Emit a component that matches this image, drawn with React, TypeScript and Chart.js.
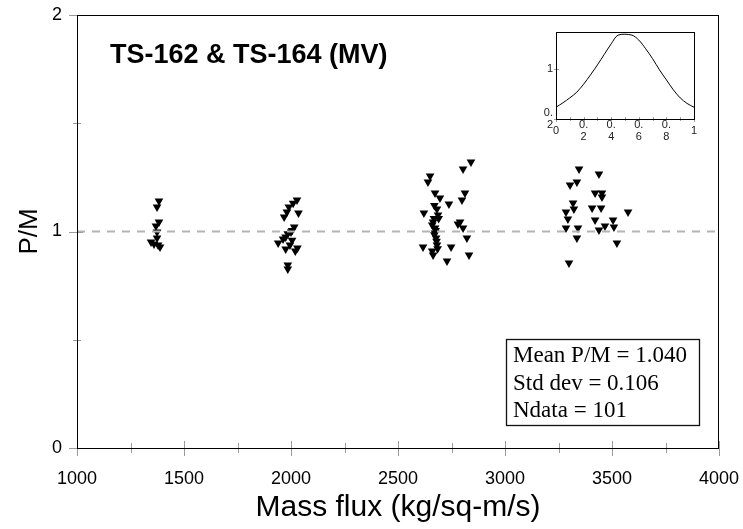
import React, { useEffect, useRef } from 'react';
import { Chart, registerables } from 'chart.js';

Chart.register(...registerables);

// ---- Main data: P/M vs mass flux (kg/sq-m/s) ----
const g1Flux = [1383, 1374, 1383, 1369, 1374, 1374, 1346, 1360, 1379, 1388];
const g1PM = [1.141, 1.113, 1.044, 1.025, 0.998, 0.970, 0.951, 0.942, 0.938, 0.928];

const g2Flux = [2028, 2010, 1990, 1981, 1968, 2035, 2015, 2005, 2000, 1985, 1975, 1963, 1940, 1995, 2030, 1975, 2020, 2005, 1985, 1985];
const g2PM = [1.145, 1.13, 1.113, 1.09, 1.067, 1.085, 1.021, 1.005, 0.998, 0.99, 0.975, 0.965, 0.947, 0.938, 0.924, 0.919, 0.91, 0.96, 0.845, 0.827];

const g3Flux = [2650, 2640, 2673, 2696, 2738, 2621, 2682, 2687, 2664, 2780, 2673, 2673, 2678, 2617, 2748, 2682, 2664, 2729,
  2841, 2804, 2813, 2799, 2790, 2804, 2822, 2832,
  2668, 2676, 2670, 2680, 2685, 2660, 2670, 2690, 2660];
const g3PM = [1.256, 1.229, 1.178, 1.155, 1.127, 1.085, 1.104, 1.076, 1.044, 1.035, 1.016, 0.993, 0.970, 0.928, 0.928, 0.938, 0.891, 0.864,
  1.321, 1.289, 1.178, 1.145, 1.044, 1.016, 0.970, 0.891,
  1.06, 1.005, 0.985, 0.955, 0.92, 0.91, 1.12, 1.06, 1.03];

const g4Flux = [3346, 3439, 3336, 3304, 3421, 3453, 3453, 3318, 3285, 3322, 3407, 3449, 3294, 3421, 3505, 3285, 3341, 3467, 3509, 3439, 3336, 3523, 3299, 3575];
const g4PM = [1.289, 1.266, 1.229, 1.215, 1.178, 1.178, 1.159, 1.132, 1.09, 1.104, 1.108, 1.108, 1.058, 1.053, 1.053, 1.016, 1.016, 1.025, 1.021, 1.007, 0.970, 0.947, 0.855, 1.09];

const referencePM = 1;
const xMin = 1000;
const xMax = 4000;
const xStep = 500;
const yMin = 0;
const yMax = 2;
const yStep = 1;

const titleText = 'TS-162 & TS-164 (MV)';
const xTitle = 'Mass flux (kg/sq-m/s)';
const yTitle = 'P/M';
const statsLines = ['Mean P/M = 1.040', 'Std dev = 0.106', 'Ndata = 101'];

// ---- Inset: axial power shape ----
const insetZ = [0, 0.05, 0.1, 0.15, 0.2, 0.25, 0.3, 0.35, 0.4, 0.45, 0.55, 0.6, 0.65, 0.7, 0.75, 0.8, 0.85, 0.9, 0.95, 1];
const insetPower = [0.39, 0.46, 0.54, 0.63, 0.76, 0.91, 1.07, 1.24, 1.41, 1.55, 1.55, 1.47, 1.33, 1.17, 0.99, 0.83, 0.67, 0.54, 0.45, 0.39];
const insetYTicks = [0.2, 1];

const SANS = '"Liberation Sans", Arial, sans-serif';
const toPoints = (xs: number[], ys: number[]) => xs.map((x, i) => ({ x, y: ys[i] }));

const mainFrame = {
  id: 'mainFrame',
  afterDraw(chart: any) {
    const { ctx, chartArea, scales } = chart;
    const { left, right, top, bottom } = chartArea;
    const x = scales.x;
    const y = scales.y;
    ctx.save();
    ctx.strokeStyle = '#9a9a9a';
    ctx.lineWidth = 1;
    const xt = x.ticks.map((t: any) => t.value);
    xt.forEach((v: number, i: number) => {
      const px = Math.round(x.getPixelForValue(v)) + 0.5;
      ctx.beginPath(); ctx.moveTo(px, bottom - 7); ctx.lineTo(px, bottom + 8); ctx.stroke();
      if (i < xt.length - 1) {
        const mx = Math.round(x.getPixelForValue((v + xt[i + 1]) / 2)) + 0.5;
        ctx.beginPath(); ctx.moveTo(mx, bottom - 5); ctx.lineTo(mx, bottom + 5); ctx.stroke();
      }
    });
    const yt = y.ticks.map((t: any) => t.value);
    yt.forEach((v: number, i: number) => {
      const py = Math.round(y.getPixelForValue(v)) + 0.5;
      ctx.beginPath(); ctx.moveTo(left - 8, py); ctx.lineTo(left + 6, py); ctx.stroke();
      if (i < yt.length - 1) {
        const my = Math.round(y.getPixelForValue((v + yt[i + 1]) / 2)) + 0.5;
        ctx.beginPath(); ctx.moveTo(left - 4, my); ctx.lineTo(left + 4, my); ctx.stroke();
      }
    });
    ctx.strokeStyle = '#000';
    ctx.lineWidth = 1;
    ctx.strokeRect(Math.round(left) + 0.5, Math.round(top) + 0.5, Math.round(right - left) - 1, Math.round(bottom - top));
    // title
    ctx.fillStyle = '#000';
    ctx.font = 'bold 27px ' + SANS;
    ctx.textAlign = 'left';
    ctx.textBaseline = 'middle';
    ctx.fillText(titleText, left + 33, top + 41);
    // stats box
    const bx = right - 213;
    const by = bottom - 109;
    ctx.lineWidth = 1.3;
    ctx.strokeStyle = '#111';
    ctx.strokeRect(bx + 0.5, by + 0.5, 193, 86);
    ctx.font = '23px "Liberation Serif", "Times New Roman", serif';
    ctx.textBaseline = 'alphabetic';
    statsLines.forEach((s, i) => {
      ctx.fillText(s, bx + 7, by + 23 + i * 27.5);
    });
    ctx.restore();
  },
};

const insetFrame = {
  id: 'insetFrame',
  afterDraw(chart: any) {
    const { ctx, chartArea, scales } = chart;
    const { left, right, top, bottom } = chartArea;
    const x = scales.x;
    const y = scales.y;
    ctx.save();
    ctx.strokeStyle = '#a0a0a0';
    ctx.lineWidth = 1;
    const xt = x.ticks.map((t: any) => t.value);
    xt.forEach((v: number, i: number) => {
      const px = Math.round(x.getPixelForValue(v)) + 0.5;
      ctx.beginPath(); ctx.moveTo(px, bottom - 2); ctx.lineTo(px, bottom + 3); ctx.stroke();
      if (i < xt.length - 1) {
        const mx = Math.round(x.getPixelForValue((v + xt[i + 1]) / 2)) + 0.5;
        ctx.beginPath(); ctx.moveTo(mx, bottom - 2); ctx.lineTo(mx, bottom + 2); ctx.stroke();
      }
    });
    y.ticks.forEach((t: any) => {
      const py = Math.round(y.getPixelForValue(t.value)) + 0.5;
      ctx.beginPath(); ctx.moveTo(left - 2, py); ctx.lineTo(left + 3, py); ctx.stroke();
    });
    ctx.strokeStyle = '#000';
    ctx.strokeRect(Math.round(left) + 0.5, Math.round(top) + 0.5, Math.round(right - left), Math.round(bottom - top));
    ctx.restore();
  },
};

export default function App() {
  const mainRef = useRef<HTMLCanvasElement>(null);
  const insetRef = useRef<HTMLCanvasElement>(null);

  useEffect(() => {
    const allPoints = [
      ...toPoints(g1Flux, g1PM),
      ...toPoints(g2Flux, g2PM),
      ...toPoints(g3Flux, g3PM),
      ...toPoints(g4Flux, g4PM),
    ];
    const main = new Chart(mainRef.current!, {
      type: 'scatter',
      data: {
        datasets: [
          {
            type: 'line',
            data: [{ x: xMin, y: referencePM }, { x: xMax, y: referencePM }],
            borderColor: '#b4b4b4',
            borderWidth: 2,
            borderDash: [8, 7],
            pointRadius: 0,
            fill: false,
          } as any,
          {
            data: allPoints,
            pointStyle: 'triangle',
            rotation: 180,
            pointRadius: 5,
            backgroundColor: '#000',
            borderColor: '#000',
            borderWidth: 0,
          } as any,
        ],
      },
      options: {
        responsive: false,
        animation: false,
        layout: { padding: { top: 15, right: 24, left: 0, bottom: 0 } },
        plugins: { legend: { display: false }, tooltip: { enabled: false } },
        scales: {
          x: {
            type: 'linear',
            min: xMin,
            max: xMax,
            grid: { display: false, drawTicks: false },
            border: { display: false },
            ticks: {
              stepSize: xStep, padding: 20, color: '#000', maxRotation: 0,
              font: { size: 18, family: SANS },
              callback: (v: any) => String(v),
            },
            title: { display: true, text: xTitle, color: '#000', font: { size: 30, family: SANS }, padding: { top: 0, bottom: 3 } },
            afterFit: (s: any) => { s.height = 81; s.paddingLeft = 0; s.paddingRight = 0; },
          },
          y: {
            type: 'linear',
            min: yMin,
            max: yMax,
            grid: { display: false, drawTicks: false },
            border: { display: false },
            ticks: { stepSize: yStep, padding: 15, color: '#000', font: { size: 18, family: SANS }, callback: (v: any) => String(v) },
            title: { display: true, text: yTitle, color: '#000', font: { size: 26, family: SANS }, padding: { top: 14, bottom: 0 } },
            afterFit: (s: any) => { s.width = 77; s.paddingTop = 0; s.paddingBottom = 0; },
          },
        },
      } as any,
      plugins: [mainFrame],
    });

    const inset = new Chart(insetRef.current!, {
      type: 'line',
      data: {
        datasets: [
          {
            data: toPoints(insetZ, insetPower),
            borderColor: '#000',
            borderWidth: 1,
            pointRadius: 0,
            fill: false,
            tension: 0.3,
          },
        ],
      },
      options: {
        responsive: false,
        animation: false,
        layout: { padding: { top: 10, right: 22, left: 0, bottom: 0 } },
        plugins: { legend: { display: false }, tooltip: { enabled: false } },
        scales: {
          x: {
            type: 'linear',
            min: 0,
            max: 1,
            grid: { display: false, drawTicks: false },
            border: { display: false },
            ticks: {
              stepSize: 0.2,
              padding: 6,
              color: '#222',
              crossAlign: 'center',
              maxRotation: 0,
              autoSkip: false,
              font: { size: 11, family: SANS, lineHeight: 1.1 },
              callback: (v: any) => {
                const n = Number(v);
                if (n < 0.01) return '0';
                if (n > 0.99) return '1';
                return ['0.', String(Math.round(n * 10))];
              },
            },
            afterFit: (s: any) => { s.height = 28; s.paddingLeft = 0; s.paddingRight = 0; },
          },
          y: {
            type: 'linear',
            min: 0.2,
            max: 1.6,
            grid: { display: false, drawTicks: false },
            border: { display: false },
            afterBuildTicks: (axis: any) => { axis.ticks = insetYTicks.map((value) => ({ value })); },
            ticks: {
              padding: 3,
              color: '#222',
              font: { size: 11, family: SANS, lineHeight: 1.15 },
              callback: (v: any) => (Number(v) < 0.5 ? ['0.', '2'] : '1'),
            },
            afterFit: (s: any) => { s.width = 40; s.paddingTop = 0; s.paddingBottom = 0; },
          },
        },
      } as any,
      plugins: [insetFrame],
    });

    return () => {
      main.destroy();
      inset.destroy();
    };
  }, []);

  return (
    <div style={{ position: 'fixed', left: 0, top: 0, width: 743, height: 529, background: '#fff' }}>
      <canvas ref={mainRef} width={743} height={529} style={{ position: 'absolute', left: 0, top: 0 }} />
      <canvas ref={insetRef} width={200} height={125} style={{ position: 'absolute', left: 516, top: 22 }} />
    </div>
  );
}
